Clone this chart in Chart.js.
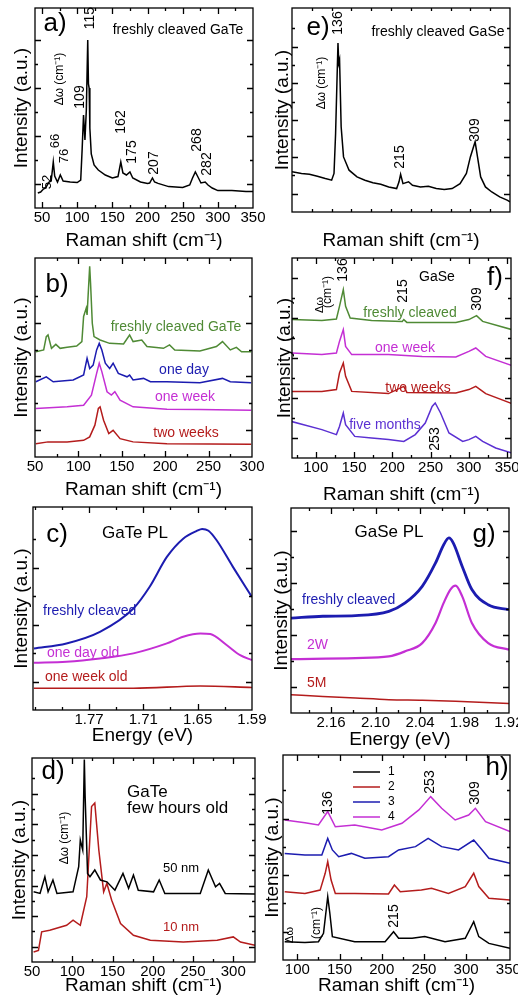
<!DOCTYPE html>
<html>
<head>
<meta charset="utf-8">
<script src="https://cdn.jsdelivr.net/npm/chart.js@4/dist/chart.umd.min.js"></script>
<style>
  body { margin: 0; background: #fff; width: 518px; height: 1002px; position: relative; overflow: hidden; }
  canvas { position: absolute; }
</style>
</head>
<body>
<canvas id="pa"></canvas><canvas id="pe"></canvas>
<canvas id="pb"></canvas><canvas id="pf"></canvas>
<canvas id="pc"></canvas><canvas id="pg"></canvas>
<canvas id="pd"></canvas><canvas id="ph"></canvas>
<script>
// ---- data (intensity in arbitrary units, 0..100 of the frame) ----

// a) freshly cleaved GaTe
const aShift = [44,48,52,55,60,63,66,68,72,76,80,90,100,105,107,109,111,113,115,116,117,118,120,124,130,140,150,158,162,165,170,175,179,190,200,203,207,210,215,230,250,260,264,268,271,276,282,286,292,300,320,340,350];
const aInt   = [7.5,8,9.5,10,13,13.5,23,16,13,16.5,13.5,13,12.7,14,29,46.5,34,49,84,62,60,40,27,21.5,19,16.5,15,15.7,23,17.5,16.5,18,15,13,12.3,12.5,15,13,12.3,10.7,10.3,11.5,15,18,16,12.5,13,11.5,10,8.7,8.7,8.2,8.2];

// e) freshly cleaved GaSe
const eShift = [78,90,100,110,120,128,131,133,136,137,138,140,143,150,160,170,180,190,200,210,213,215,218,225,230,240,250,260,270,280,290,298,303,307,309,312,316,322,330,340,350,353];
const eInt   = [19.7,18.9,18.5,17.5,16.4,15.6,18.9,38.5,82.8,73,74.6,41.8,27,20.5,17.2,15.6,14.3,13.6,12.3,11.5,14.8,18.5,13.9,14.8,13.1,12.3,12.6,11.5,11,11.5,13.9,18.9,27,32,34.4,27,17.2,12.3,9.8,7.4,5.7,4.9];

// b) GaTe ageing
const bFreshX = [51,60,63,65,69,74,79,87,98,104,106,109,110,113,114,116,118,125,136,152,159,163,173,179,198,205,211,240,259,266,275,282,288,299];
const bFreshY = [52.9,53.8,60.5,61.3,54.6,56.6,54.6,55.1,55.8,58,70.6,74.8,71.4,95.8,87.4,67.2,60.5,58.8,57.1,56.8,61.3,58,58.8,55.5,54.6,56.3,53.8,53.3,55.5,58,53.8,55.1,52.9,52.9];
const bDayX = [51,63,71,94,106,110,113,117,121,124,127,131,136,140,146,156,159,163,175,183,202,240,266,275,299];
const bDayY = [37.8,40.3,37.8,38.7,41.2,49.6,44.5,46.2,53.8,57.1,53.8,47.1,44.5,47.1,42,40.3,41.2,38.7,39.5,37.8,37.8,37.3,39.5,37.8,37.3];
const bWeekX = [51,87,106,115,121,124,127,133,138,142,148,163,202,240,299];
const bWeekY = [24.4,25.2,26,31.1,42,47.1,42.9,32.8,31.1,32.8,28.6,25.2,24,23.9,23.5];
const bTwoX = [51,65,87,106,113,119,123,125,129,135,140,148,163,202,299];
const bTwoY = [6.7,7.6,7.6,8.4,10.1,16,24.4,25.2,18.5,11.8,13.4,9.2,7.6,6.7,6.4];

// f) GaSe ageing
const fFreshX = [68,108,127,131,136,139,145,173,213,215,219,283,300,310,318,356];
const fFreshY = [69.2,68.8,69.5,75.8,84.2,75.8,70,68.8,68.3,69.2,67.8,67.8,69.2,71.2,68.3,64.2];
const fWeekX = [68,108,127,131,136,139,147,195,239,283,300,309,322,356];
const fWeekY = [52.5,51.7,52.5,58.3,64.2,55.8,51.7,51.7,50.8,50.5,53.3,55,50.8,46.2];
const fTwoX = [68,108,127,131,136,139,147,195,215,219,283,300,309,322,356];
const fTwoY = [33.3,33.3,34.2,42.5,47.5,40.8,33.3,32.2,35.8,32.8,32.5,34.2,35.8,32.2,27.2];
const fFiveX = [68,108,127,131,136,139,151,173,195,215,230,243,252,256,263,274,292,300,309,318,335,356];
const fFiveY = [18.3,14.2,11.7,15.8,22.5,16.7,10.8,10,9.2,8.3,11.7,17.5,25.8,27.5,22.5,12.5,8.3,9.2,10.8,8.3,5,2.5];

// c) GaTe PL
const cFreshE = [1.831,1.795,1.758,1.721,1.703,1.684,1.666,1.651,1.645,1.638,1.629,1.611,1.59];
const cFreshI = [30.3,32.8,38.5,50,60.7,75.4,84.4,88.2,89.2,88.3,83.6,70.5,55.7];
const cDayE = [1.831,1.795,1.758,1.721,1.684,1.666,1.647,1.636,1.618,1.603,1.59];
const cDayI = [23.3,23.8,25.4,27.9,32.8,36.1,37.7,37.4,32,27,24.6];
const cWeekE = [1.831,1.721,1.647,1.59];
const cWeekI = [10.7,10.7,11.8,11.1];

// g) GaSe PL
const gFreshE = [2.214,2.171,2.127,2.082,2.06,2.037,2.019,2.008,2.001,1.995,1.983,1.97,1.948,1.92];
const gFreshI = [46.3,47.2,47.5,49.6,53.7,61.8,73.2,82.1,85.4,82.9,71.5,60.2,52.8,50.4];
const g2wE = [2.214,2.127,2.082,2.06,2.037,2.019,2.008,1.999,1.992,1.983,1.97,1.948,1.92];
const g2wI = [26.3,26.8,27.6,30.1,34.1,43.9,53.7,60.2,62.1,56.9,43.9,34.1,30.9];
const g5mE = [2.214,2.171,2.127,2.082,2.037,1.992,1.92];
const g5mI = [8.9,8.1,7.3,6.5,6.2,5.7,4.6];

// d) GaTe, few hours old, two thicknesses
const d50X = [52,60,66,70,76,81,101,108,110,113,115,116,119,122,128,135,143,153,163,170,176,182,201,208,215,259,269,278,283,290,327];
const d50Y = [34.4,33.6,41.8,34.4,40.2,33.6,34.4,46.7,59.8,54.9,99.2,81.1,43.4,41.8,45.1,40.2,39.3,35.2,43.4,36.1,42.6,35.2,34.4,40.2,33.6,33.6,45.1,36.9,38.5,33.6,33.3];
const d10X = [52,58,62,72,93,101,110,118,124,128,133,139,143,149,160,176,197,238,280,300,309,327];
const d10Y = [4.9,5.7,14.8,15.6,18,20.5,18,32,76.2,77.9,54.9,34.4,38.5,30.3,18.9,13.1,10.7,9.8,10.7,12.3,9.8,8.2];

// h) GaSe, spots 1-4
const hLabels = ['1','2','3','4'];
const h1X = [85,109,125,131,136,138.5,141.5,168,204,214,220,236,251,275,299,309,315,327,352];
const h1Y = [8.9,8.5,8.9,13,30.9,22.8,11.4,8.9,8.9,13.8,10.6,10.6,11.4,8.9,10.6,18.7,11.4,8.1,5.7];
const h2X = [85,109,127,133,136,140,145,168,208,215,222,247,259,279,299,309,315,327,352];
const h2Y = [33.3,32.5,34.1,42.3,48,39,32.5,32.5,32.2,36.6,33.3,34.1,35,32.5,35.8,42.3,35.8,30.1,29.3];
const h3X = [85,109,129,136,141.5,149,164,180,208,220,240,255,271,291,309,319,327,352];
const h3Y = [52,51.2,51.2,59.3,53.7,50.4,52,49.6,50.4,53.7,55.3,59.3,55.3,53.7,58.5,53.7,49.6,47.2];
const h4X = [85,109,125,136,145,168,200,224,244,258,271,287,303,311,323,352];
const h4Y = [68.3,67,65.9,72.4,65,65.9,63.4,66.7,73.2,79.7,74,68.3,70.7,74,67.5,62.6];

// tick labels
const ramanTicks = [50,100,150,200,250,300,350];
const ramanTicksShort = [50,100,150,200,250,300];
const gateEnergyTicks = [1.77,1.71,1.65,1.59];
const gaseEnergyTicks = [2.16,2.10,2.04,1.98,1.92];

// ---- drawing ----
const FONT = '"Liberation Sans", Arial, Helvetica, sans-serif';
Chart.defaults.font.family = FONT;
Chart.defaults.color = '#000';

const GREEN = '#4f8a35', BLUE = '#1c1cb0', MAGENTA = '#c42fd4', RED = '#b41c1c', PURPLE = '#5b30d2', BLACK = '#000';
const RAMAN = 'Raman shift (cm\u207B\u00B9)';
const ENERGY = 'Energy (eV)';

// frame with inward ticks, text notes and the small legend of h)
const frame = {
  id: 'frame',
  afterDatasetsDraw(chart, args, o) {
    const {ctx, chartArea: a, scales: {x, y}} = chart;
    ctx.save();
    ctx.strokeStyle = '#000';
    ctx.lineWidth = 1.3;
    ctx.strokeRect(a.left, a.top, a.width, a.height);
    ctx.beginPath();
    x.ticks.forEach(t => {
      const px = Math.round(x.getPixelForValue(t.value)) + 0.5;
      if (px <= a.left + 2 || px >= a.right - 2) return;
      const len = t.label ? 6 : 3;
      ctx.moveTo(px, a.bottom); ctx.lineTo(px, a.bottom - len);
      ctx.moveTo(px, a.top); ctx.lineTo(px, a.top + len);
    });
    y.ticks.forEach((t, i) => {
      const py = Math.round(y.getPixelForValue(t.value)) + 0.5;
      if (py <= a.top + 2 || py >= a.bottom - 2) return;
      const len = i % 2 ? 6 : 3;
      ctx.moveTo(a.left, py); ctx.lineTo(a.left + len, py);
      ctx.moveTo(a.right, py); ctx.lineTo(a.right - len, py);
    });
    ctx.stroke();

    (o.notes || []).forEach(n => {
      ctx.save();
      ctx.font = n.s + 'px ' + FONT;
      ctx.fillStyle = n.c || '#000';
      ctx.textAlign = n.a || 'center';
      ctx.textBaseline = 'middle';
      ctx.translate(n.x - o.ox, n.y - o.oy);
      if (n.r) ctx.rotate(-Math.PI / 2);
      ctx.fillText(n.t, 0, 0);
      ctx.restore();
    });

    if (o.legend) {
      const L = o.legend;
      ctx.font = '12px ' + FONT;
      ctx.textAlign = 'left';
      ctx.textBaseline = 'middle';
      chart.data.datasets.forEach((d, i) => {
        const py = L.y + L.dy * i - o.oy;
        ctx.strokeStyle = d.borderColor;
        ctx.lineWidth = 1.5;
        ctx.beginPath();
        ctx.moveTo(L.x1 - o.ox, py); ctx.lineTo(L.x2 - o.ox, py);
        ctx.stroke();
        ctx.fillStyle = '#000';
        ctx.fillText(d.label, L.tx - o.ox, py);
      });
    }
    ctx.restore();
  }
};

function tickLabel(list, digits) {
  return v => list.some(l => Math.abs(l - v) < 1e-6) ? (digits ? v.toFixed(digits) : String(v)) : '';
}

function panel(id, cv, box, ax, yStep, yPad, sets, notes, legend) {
  const el = document.getElementById(id);
  el.width = cv.w; el.height = cv.h;
  el.style.left = cv.l + 'px'; el.style.top = cv.t + 'px';
  new Chart(el, {
    type: 'line',
    data: {
      datasets: sets.map(s => ({
        label: s.label || '',
        data: s.x.map((v, i) => ({x: v, y: s.y[i]})),
        borderColor: s.color,
        borderWidth: s.w || 1.5,
        pointRadius: 0,
        fill: false,
        tension: 0,
        cubicInterpolationMode: s.smooth ? 'monotone' : 'default'
      }))
    },
    options: {
      responsive: false,
      animation: false,
      layout: {padding: {top: box.t - cv.t, right: cv.l + cv.w - box.r, left: 0, bottom: 0}},
      plugins: {
        legend: {display: false},
        tooltip: {enabled: false},
        frame: {notes: notes, ox: cv.l, oy: cv.t, legend: legend}
      },
      scales: {
        x: {
          type: 'linear', min: ax.min, max: ax.max, reverse: !!ax.reverse,
          grid: {display: false, drawTicks: false},
          border: {display: false},
          ticks: {stepSize: ax.step, autoSkip: false, maxRotation: 0, minRotation: 0, includeBounds: false,
                  maxTicksLimit: 100, padding: 1, color: '#000', font: {size: 15}, callback: ax.label},
          title: {display: true, text: ax.title, color: '#000', font: {size: 19}, padding: {top: 0, bottom: 0}},
          afterFit: s => { s.height = cv.t + cv.h - box.b; s.paddingLeft = 0; s.paddingRight = 0; }
        },
        y: {
          min: 0, max: 100,
          grid: {display: false, drawTicks: false},
          border: {display: false},
          ticks: {display: false, stepSize: yStep, maxTicksLimit: 100},
          title: {display: true, text: 'Intensity (a.u.)', color: '#000', font: {size: 19}, padding: {top: yPad, bottom: 0}},
          afterFit: s => { s.width = box.l - cv.l; }
        }
      }
    },
    plugins: [frame]
  });
}

// a)
panel('pa', {l: 0, t: 0, w: 275, h: 252}, {l: 35, t: 8, r: 253, b: 208},
  {min: 40, max: 350, step: 25, title: RAMAN, label: tickLabel(ramanTicks)}, 12, 10.6,
  [{x: aShift, y: aInt, color: BLACK}],
  [
    {t: 'a)', x: 55, y: 24, s: 26},
    {t: 'freshly cleaved GaTe', x: 178, y: 30, s: 14},
    {t: '\u0394\u03C9 (cm\u207B\u00B9)', x: 60, y: 79, s: 12, r: 1},
    {t: '52', x: 47, y: 182, s: 13, r: 1},
    {t: '66', x: 55, y: 141, s: 13, r: 1},
    {t: '76', x: 64, y: 156, s: 13, r: 1},
    {t: '109', x: 80, y: 97, s: 14, r: 1},
    {t: '115', x: 90, y: 18, s: 14, r: 1},
    {t: '162', x: 121, y: 122, s: 14, r: 1},
    {t: '175', x: 132, y: 152, s: 14, r: 1},
    {t: '207', x: 154, y: 163, s: 14, r: 1},
    {t: '268', x: 197, y: 140, s: 14, r: 1},
    {t: '282', x: 207, y: 164, s: 14, r: 1}
  ]);

// e)
panel('pe', {l: 255, t: 0, w: 263, h: 252}, {l: 292, t: 8, r: 510, b: 212},
  {min: 78, max: 353, step: 25, title: RAMAN, label: tickLabel(ramanTicks)}, 9, 16.6,
  [{x: eShift, y: eInt, color: BLACK}],
  [
    {t: 'e)', x: 318, y: 28, s: 26},
    {t: '136', x: 338, y: 23, s: 14, r: 1},
    {t: 'freshly cleaved GaSe', x: 438, y: 32, s: 14},
    {t: '\u0394\u03C9 (cm\u207B\u00B9)', x: 322, y: 83, s: 12, r: 1},
    {t: '215', x: 400, y: 157, s: 14, r: 1},
    {t: '309', x: 475, y: 130, s: 14, r: 1}
  ]);

// b)
panel('pb', {l: 0, t: 245, w: 275, h: 256}, {l: 35, t: 258, r: 252, b: 457},
  {min: 50, max: 300, step: 25, title: RAMAN, label: tickLabel(ramanTicksShort)}, 13.5, 10.6,
  [
    {x: bFreshX, y: bFreshY, color: GREEN},
    {x: bDayX, y: bDayY, color: BLUE},
    {x: bWeekX, y: bWeekY, color: MAGENTA},
    {x: bTwoX, y: bTwoY, color: RED}
  ],
  [
    {t: 'b)', x: 57, y: 285, s: 26},
    {t: 'freshly cleaved GaTe', x: 176, y: 327, s: 14, c: GREEN},
    {t: 'one day', x: 184, y: 370, s: 14, c: BLUE},
    {t: 'one week', x: 185, y: 397, s: 14, c: MAGENTA},
    {t: 'two weeks', x: 186, y: 433, s: 14, c: RED}
  ]);

// f)
panel('pf', {l: 255, t: 245, w: 263, h: 261}, {l: 292, t: 258, r: 511, b: 458},
  {min: 69, max: 355, step: 25, title: RAMAN, label: tickLabel(ramanTicks)}, 10, 18.6,
  [
    {x: fFreshX, y: fFreshY, color: GREEN},
    {x: fWeekX, y: fWeekY, color: MAGENTA},
    {x: fTwoX, y: fTwoY, color: RED},
    {x: fFiveX, y: fFiveY, color: PURPLE}
  ],
  [
    {t: 'f)', x: 495, y: 278, s: 26},
    {t: 'GaSe', x: 437, y: 277, s: 14},
    {t: '136', x: 343, y: 270, s: 14, r: 1},
    {t: '215', x: 403, y: 291, s: 14, r: 1},
    {t: '309', x: 477, y: 299, s: 14, r: 1},
    {t: '253', x: 435, y: 439, s: 14, r: 1},
    {t: '\u0394\u03C9', x: 320, y: 305, s: 11, r: 1},
    {t: '(cm\u207B\u00B9)', x: 328, y: 292, s: 12, r: 1},
    {t: 'freshly cleaved', x: 410, y: 313, s: 14, c: GREEN},
    {t: 'one week', x: 405, y: 348, s: 14, c: MAGENTA},
    {t: 'two weeks', x: 418, y: 388, s: 14, c: RED},
    {t: 'five months', x: 385, y: 425, s: 14, c: PURPLE}
  ]);

// c)
panel('pc', {l: 0, t: 495, w: 275, h: 252}, {l: 33, t: 507, r: 252, b: 710},
  {min: 1.5899, max: 1.832, step: 0.03, reverse: true, title: ENERGY, label: tickLabel(gateEnergyTicks, 2)}, 14, 10.6,
  [
    {x: cFreshE, y: cFreshI, color: BLUE, w: 2, smooth: 1},
    {x: cDayE, y: cDayI, color: MAGENTA, w: 2, smooth: 1},
    {x: cWeekE, y: cWeekI, color: RED, w: 1.6, smooth: 1}
  ],
  [
    {t: 'c)', x: 57, y: 535, s: 26},
    {t: 'GaTe PL', x: 135, y: 533, s: 17},
    {t: 'freshly cleaved', x: 43, y: 611, s: 14, c: BLUE, a: 'left'},
    {t: 'one day old', x: 47, y: 653, s: 14, c: MAGENTA, a: 'left'},
    {t: 'one week old', x: 45, y: 677, s: 14, c: RED, a: 'left'}
  ]);

// g)
panel('pg', {l: 255, t: 495, w: 263, h: 256}, {l: 291, t: 508, r: 509, b: 713},
  {min: 1.9199, max: 2.214, step: 0.03, reverse: true, title: ENERGY, label: tickLabel(gaseEnergyTicks, 2)}, 12.7, 15.6,
  [
    {x: gFreshE, y: gFreshI, color: BLUE, w: 2.8, smooth: 1},
    {x: g2wE, y: g2wI, color: MAGENTA, w: 2.2, smooth: 1},
    {x: g5mE, y: g5mI, color: RED, w: 1.5, smooth: 1}
  ],
  [
    {t: 'GaSe PL', x: 389, y: 532, s: 17},
    {t: 'g)', x: 484, y: 535, s: 26},
    {t: 'freshly cleaved', x: 302, y: 600, s: 14, c: BLUE, a: 'left'},
    {t: '2W', x: 307, y: 645, s: 14, c: MAGENTA, a: 'left'},
    {t: '5M', x: 307, y: 683, s: 14, c: RED, a: 'left'}
  ]);

// d)
panel('pd', {l: 0, t: 745, w: 275, h: 252}, {l: 32, t: 758, r: 255, b: 962},
  {min: 50, max: 327, step: 25, title: RAMAN, label: tickLabel(ramanTicksShort)}, 7.5, 8.6,
  [
    {x: d50X, y: d50Y, color: BLACK},
    {x: d10X, y: d10Y, color: RED}
  ],
  [
    {t: 'd)', x: 53, y: 772, s: 26},
    {t: 'GaTe', x: 127, y: 792, s: 17, a: 'left'},
    {t: 'few hours old', x: 127, y: 808, s: 17, a: 'left'},
    {t: '\u0394\u03C9 (cm\u207B\u00B9)', x: 65, y: 838, s: 12, r: 1},
    {t: '50 nm', x: 163, y: 868, s: 13, a: 'left'},
    {t: '10 nm', x: 163, y: 927, s: 13, c: RED, a: 'left'}
  ]);

// h)
panel('ph', {l: 255, t: 745, w: 263, h: 252}, {l: 283, t: 755, r: 510, b: 960},
  {min: 83, max: 352, step: 25, title: RAMAN, label: tickLabel(ramanTicks)}, 13.8, 6.6,
  [
    {x: h1X, y: h1Y, color: BLACK, label: hLabels[0]},
    {x: h2X, y: h2Y, color: RED, label: hLabels[1]},
    {x: h3X, y: h3Y, color: BLUE, label: hLabels[2]},
    {x: h4X, y: h4Y, color: MAGENTA, label: hLabels[3]}
  ],
  [
    {t: 'h)', x: 497, y: 768, s: 26},
    {t: '136', x: 328, y: 803, s: 14, r: 1},
    {t: '253', x: 430, y: 782, s: 14, r: 1},
    {t: '309', x: 475, y: 793, s: 14, r: 1},
    {t: '215', x: 394, y: 916, s: 14, r: 1},
    {t: '\u0394\u03C9', x: 290, y: 935, s: 11, r: 1},
    {t: '(cm\u207B\u00B9)', x: 317, y: 923, s: 12, r: 1}
  ],
  {x1: 353, x2: 380, tx: 388, y: 772, dy: 15});
</script>
</body>
</html>
